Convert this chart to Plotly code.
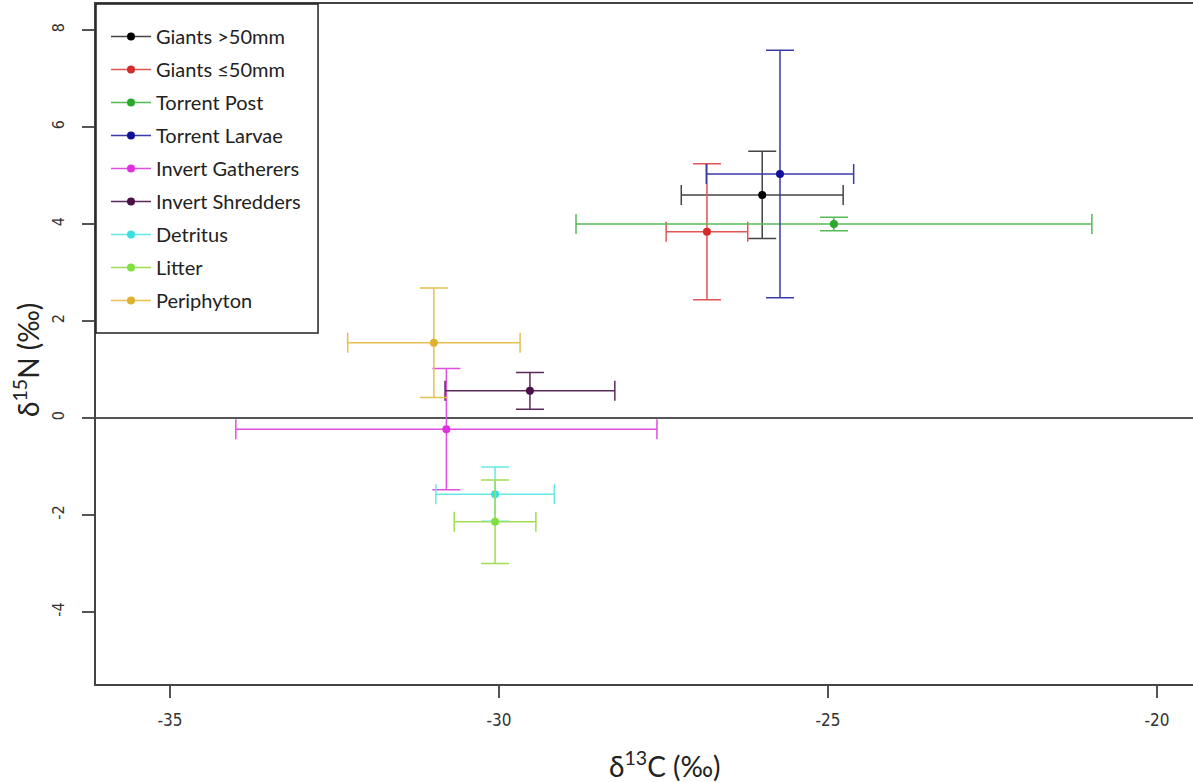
import plotly.graph_objects as go

groups = ["Giants >50mm", "Giants ≤50mm", "Torrent Post", "Torrent Larvae",
          "Invert Gatherers", "Invert Shredders", "Detritus", "Litter", "Periphyton"]
d13c = [-26.0, -26.84, -24.91, -25.73, -30.8, -29.53, -30.06, -30.06, -30.99]
d15n = [4.6, 3.84, 4.0, 5.03, -0.23, 0.56, -1.57, -2.14, 1.55]
d13c_err = [1.23, 0.62, 3.92, 1.12, 3.2, 1.29, 0.9, 0.62, 1.31]
d15n_err = [0.9, 1.4, 0.14, 2.55, 1.25, 0.38, 0.56, 0.86, 1.13]
marker_colors = ["#000000", "#d42a2a", "#2aa82a", "#10109a", "#e030e0",
                 "#4a1048", "#3ae0e0", "#80e040", "#e0b030"]
bar_colors = ["#444444", "#e05555", "#55bb55", "#3a3aaa", "#e050e0",
              "#5a2a5a", "#66e8e8", "#a0dd55", "#e8c050"]

x_ticks = [-35, -30, -25, -20]
x_labels = ["-35", "-30", "-25", "-20"]
y_ticks = [-4, -2, 0, 2, 4, 6, 8]
y_labels = ["-4", "-2", "0", "2", "4", "6", "8"]
x_title = "δ<sup>13</sup>C (‰)"
y_title = "δ<sup>15</sup>N (‰)"

fig = go.Figure()
for i, g in enumerate(groups):
    fig.add_trace(go.Scatter(
        x=[d13c[i]], y=[d15n[i]], name=g, legendgroup=g,
        mode="lines+markers",
        marker=dict(color=marker_colors[i], size=8),
        line=dict(color=bar_colors[i], width=1.5),
        error_x=dict(type="data", array=[d13c_err[i]], color=bar_colors[i],
                     thickness=1.5, width=10),
        error_y=dict(type="data", array=[d15n_err[i]], color=bar_colors[i],
                     thickness=1.5, width=14),
    ))

narrow = "Liberation Sans Narrow, DejaVu Sans Condensed, Arial Narrow, sans-serif"
title_font = dict(family="Lato, Noto Sans, sans-serif", size=28, color="#222222")

# legend frame (style element, paper coordinates)
fig.add_shape(type="rect", xref="paper", yref="paper",
              x0=0, x1=0.2024, y0=0.5162, y1=1,
              line=dict(color="#222222", width=1.5), fillcolor="white", layer="above")

fig.add_annotation(text=x_title, xref="paper", yref="paper", x=0.5187, y=-0.1191,
                   xanchor="center", yanchor="middle", showarrow=False, font=title_font)
fig.add_annotation(text=y_title, xref="paper", yref="paper", x=-0.0629, y=0.4765,
                   xanchor="center", yanchor="middle", showarrow=False, textangle=-90,
                   font=title_font)

fig.update_layout(
    width=1193, height=782,
    margin=dict(l=96, r=0, t=4, b=98),
    plot_bgcolor="white", paper_bgcolor="white",
    showlegend=True,
    legend=dict(x=10 / 1097, y=1 - 13 / 680, xanchor="left", yanchor="top",
                bgcolor="rgba(0,0,0,0)", borderwidth=0,
                font=dict(family="Lato, Noto Sans, sans-serif", size=20, color="#222222"),
                tracegroupgap=4, itemwidth=40),
    xaxis=dict(range=[-36.125, -19.453], tickvals=x_ticks, ticktext=x_labels,
               showgrid=False, automargin=False,
               zeroline=False, showline=True, linecolor="#444444", linewidth=1.5,
               mirror=True, ticks="outside", ticklen=12, tickcolor="#555555", tickwidth=1.5,
               ticklabelstandoff=8,
               tickfont=dict(family=narrow, size=17, color="#333333")),
    yaxis=dict(range=[-5.485, 8.536], tickvals=y_ticks, ticktext=y_labels,
               showgrid=False, automargin=False,
               zeroline=True, zerolinecolor="#555555", zerolinewidth=1.5,
               showline=True, linecolor="#444444", linewidth=1.5, mirror=False,
               ticks="outside", ticklen=12, tickcolor="#555555", tickwidth=1.5,
               tickangle=-90, ticklabelstandoff=12,
               tickfont=dict(family=narrow, size=16, color="#333333")),
)

fig.write_html("out.html", config={"displayModeBar": False},
               post_script="document.body.style.margin='0';")
